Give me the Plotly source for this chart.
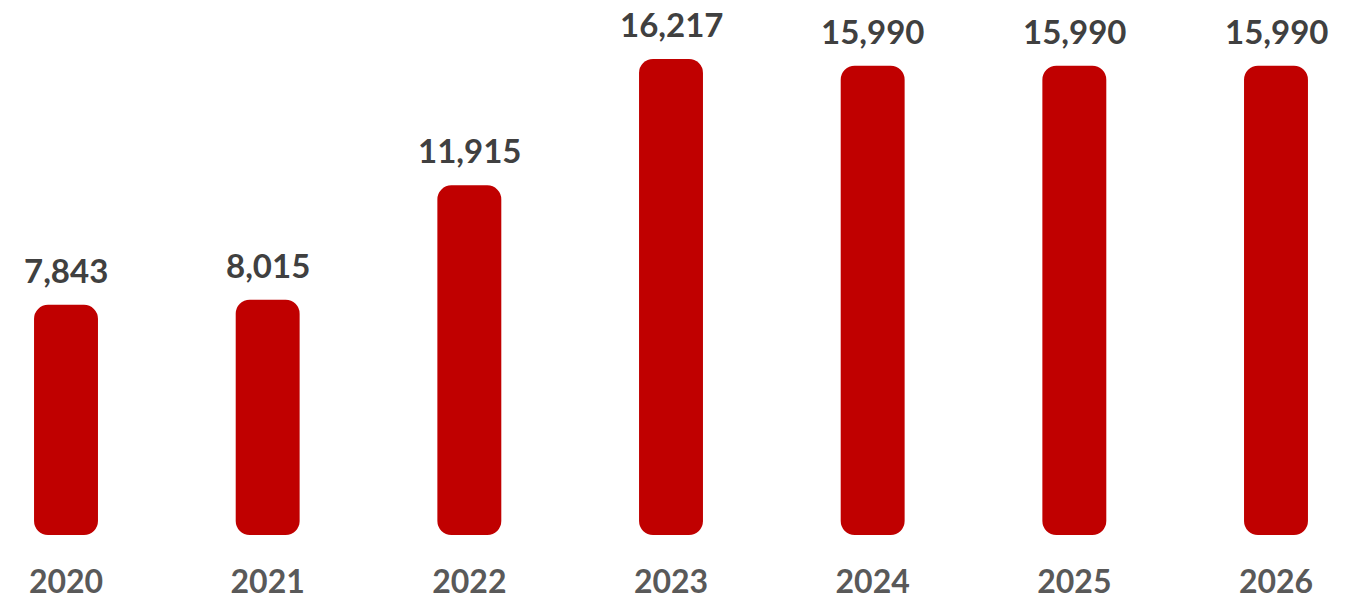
import plotly.graph_objects as go

# Annual totals by year
years = ["2020", "2021", "2022", "2023", "2024", "2025", "2026"]
values = [7843, 8015, 11915, 16217, 15990, 15990, 15990]

BAR_COLOR = "#C00000"
VALUE_COLOR = "#404040"
YEAR_COLOR = "#595959"
FONT = "Lato"
BAR_WIDTH = 0.317
RADIUS = 14

fig = go.Figure()

# An explicit base makes plotly round both ends of every column
fig.add_trace(go.Bar(
    x=years,
    y=values,
    base=[0] * len(values),
    width=BAR_WIDTH,
    marker=dict(color=BAR_COLOR, line=dict(width=0), cornerradius=RADIUS),
    hoverinfo="skip",
))

# Value labels above each column
for i, v in enumerate(values):
    fig.add_annotation(
        x=i, y=v, xref="x", yref="y", text=f"{v:,}", showarrow=False,
        yanchor="bottom", yshift=13,
        font=dict(family=FONT, size=33, color=VALUE_COLOR, weight="bold"),
    )

fig.update_layout(
    width=1361, height=602,
    margin=dict(l=0, r=0, t=0, b=60),
    paper_bgcolor="white", plot_bgcolor="white",
    showlegend=False,
    xaxis=dict(
        type="category",
        range=[-0.3273, 6.4215],
        showgrid=False, zeroline=False, showline=False,
        ticks="", ticklabelstandoff=18,
        tickfont=dict(family=FONT, size=32, color=YEAR_COLOR, weight="bold"),
    ),
    yaxis=dict(
        range=[-238.5, 18228],
        visible=False,
    ),
)

fig.write_html("out.html")
